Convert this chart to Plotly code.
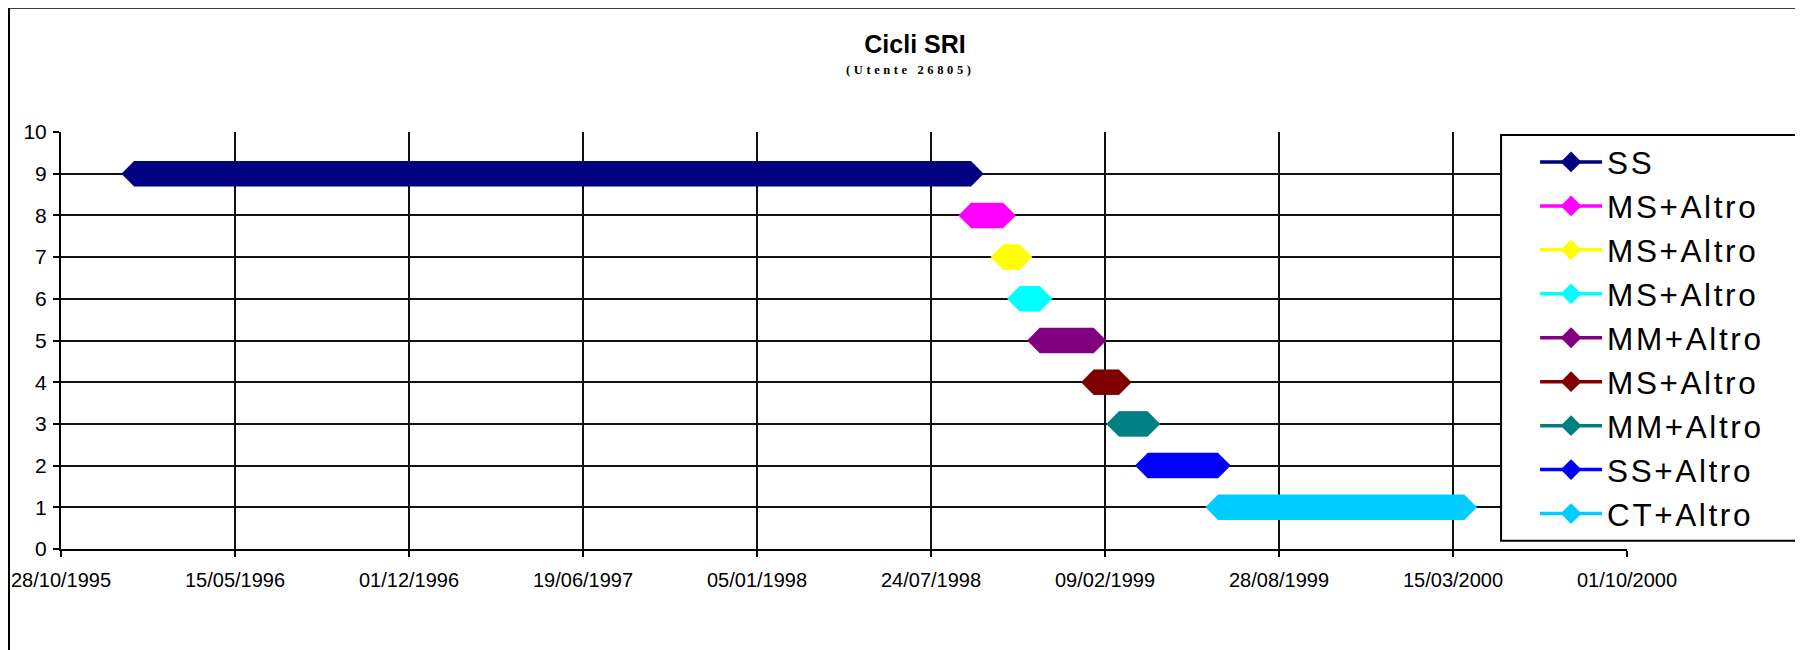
import plotly.graph_objects as go

# Cicli SRI - one row per therapy cycle (start / end dates)
names = ["SS", "MS+Altro", "MS+Altro", "MS+Altro", "MM+Altro",
         "MS+Altro", "MM+Altro", "SS+Altro", "CT+Altro"]
levels = [9, 8, 7, 6, 5, 4, 3, 2, 1]
start_dates = ["1996-01-20", "1998-09-08", "1998-10-15", "1998-11-03", "1998-11-26",
               "1999-01-27", "1999-02-25", "1999-03-30", "1999-06-19"]
end_dates = ["1998-09-08", "1998-10-15", "1998-11-03", "1998-11-26", "1999-01-27",
             "1999-02-25", "1999-03-30", "1999-06-19", "2000-03-28"]

colors = ["#000080", "#FF00FF", "#FFFF00", "#00FFFF", "#800080",
          "#800000", "#008080", "#0000FF", "#00CCFF"]

FONT = "Liberation Sans, Arial, sans-serif"

# page body has an 8px margin, so everything is placed 8px up/left
OFF = 8
PL, PT = 61 - OFF, 132 - OFF          # plot area left / top
PR, PB = 1626.6 - OFF, 549.5 - OFF    # plot area right / bottom
PW, PH = PR - PL, PB - PT


def px(x):
    return (x - OFF - PL) / PW


def py(y):
    return (PB - (y - OFF)) / PH


fig = go.Figure()

for name, lvl, d0, d1, col in zip(names, levels, start_dates, end_dates, colors):
    # thick band (Excel draws it as a dense run of diamond markers)
    fig.add_trace(go.Scatter(
        x=[d0, d1], y=[lvl, lvl], mode="lines",
        line=dict(color=col, width=25.5),
        showlegend=False, hoverinfo="skip",
    ))
    # end diamonds + legend entry
    fig.add_trace(go.Scatter(
        x=[d0, d1], y=[lvl, lvl], mode="lines+markers",
        name='<span style="letter-spacing:2.6px">%s</span>' % name,
        line=dict(color=col, width=3.5),
        marker=dict(symbol="diamond", size=19.5, color=col, line=dict(width=0)),
    ))

fig.update_layout(
    width=1803, height=650,
    paper_bgcolor="white", plot_bgcolor="white",
    margin=dict(l=PL, r=1803 - PR, t=PT, b=650 - PB, autoexpand=False),
    font=dict(family=FONT, color="black", size=21),
    title=dict(text="<b>Cicli SRI</b>", font=dict(size=25, family=FONT),
               x=(915 - OFF) / 1803, xref="container", xanchor="center",
               y=1 - (44 - OFF) / 650, yref="container", yanchor="middle"),
    annotations=[dict(
        text='<b><span style="letter-spacing:3.6px">(Utente 26805)</span></b>',
        xref="paper", yref="paper", x=px(910), y=py(70),
        xanchor="center", yanchor="middle", showarrow=False,
        font=dict(size=12.5, family="Liberation Serif, Times New Roman, serif"),
    )],
    legend=dict(
        x=px(1500.7), y=py(135),
        xanchor="left", yanchor="top",
        bgcolor="rgba(0,0,0,0)", borderwidth=0,
        font=dict(size=31.5, family=FONT),
        itemwidth=62, indentation=34,
    ),
    shapes=[
        # chart-area frame
        dict(type="rect", xref="paper", yref="paper",
             x0=px(9), x1=1.3, y0=-0.5, y1=py(7.5),
             line=dict(color="black", width=2), layer="below"),
        # legend box
        dict(type="rect", xref="paper", yref="paper",
             x0=px(1500.7), x1=px(1798), y0=py(541.3), y1=py(135),
             fillcolor="white", line=dict(color="black", width=2), layer="above"),
    ],
    showlegend=True,
)

fig.update_xaxes(
    type="date", range=["1995-10-28", "2000-10-01"],
    tick0="1995-10-28", dtick=200 * 86400000, tickformat="%d/%m/%Y",
    tickfont=dict(size=20),
    showgrid=True, gridcolor="#111", gridwidth=2,
    showline=True, linecolor="black", linewidth=2,
    ticks="outside", ticklen=6, tickwidth=2, tickcolor="black",
    zeroline=False, ticklabelstandoff=6, automargin=False,
)
fig.update_yaxes(
    range=[0, 10], dtick=1,
    showgrid=True, gridcolor="#111", gridwidth=2,
    showline=True, linecolor="black", linewidth=2,
    ticks="outside", ticklen=6, tickwidth=2, tickcolor="black",
    zeroline=False, ticklabelstandoff=2, automargin=False,
)

fig.write_html("out.html")
